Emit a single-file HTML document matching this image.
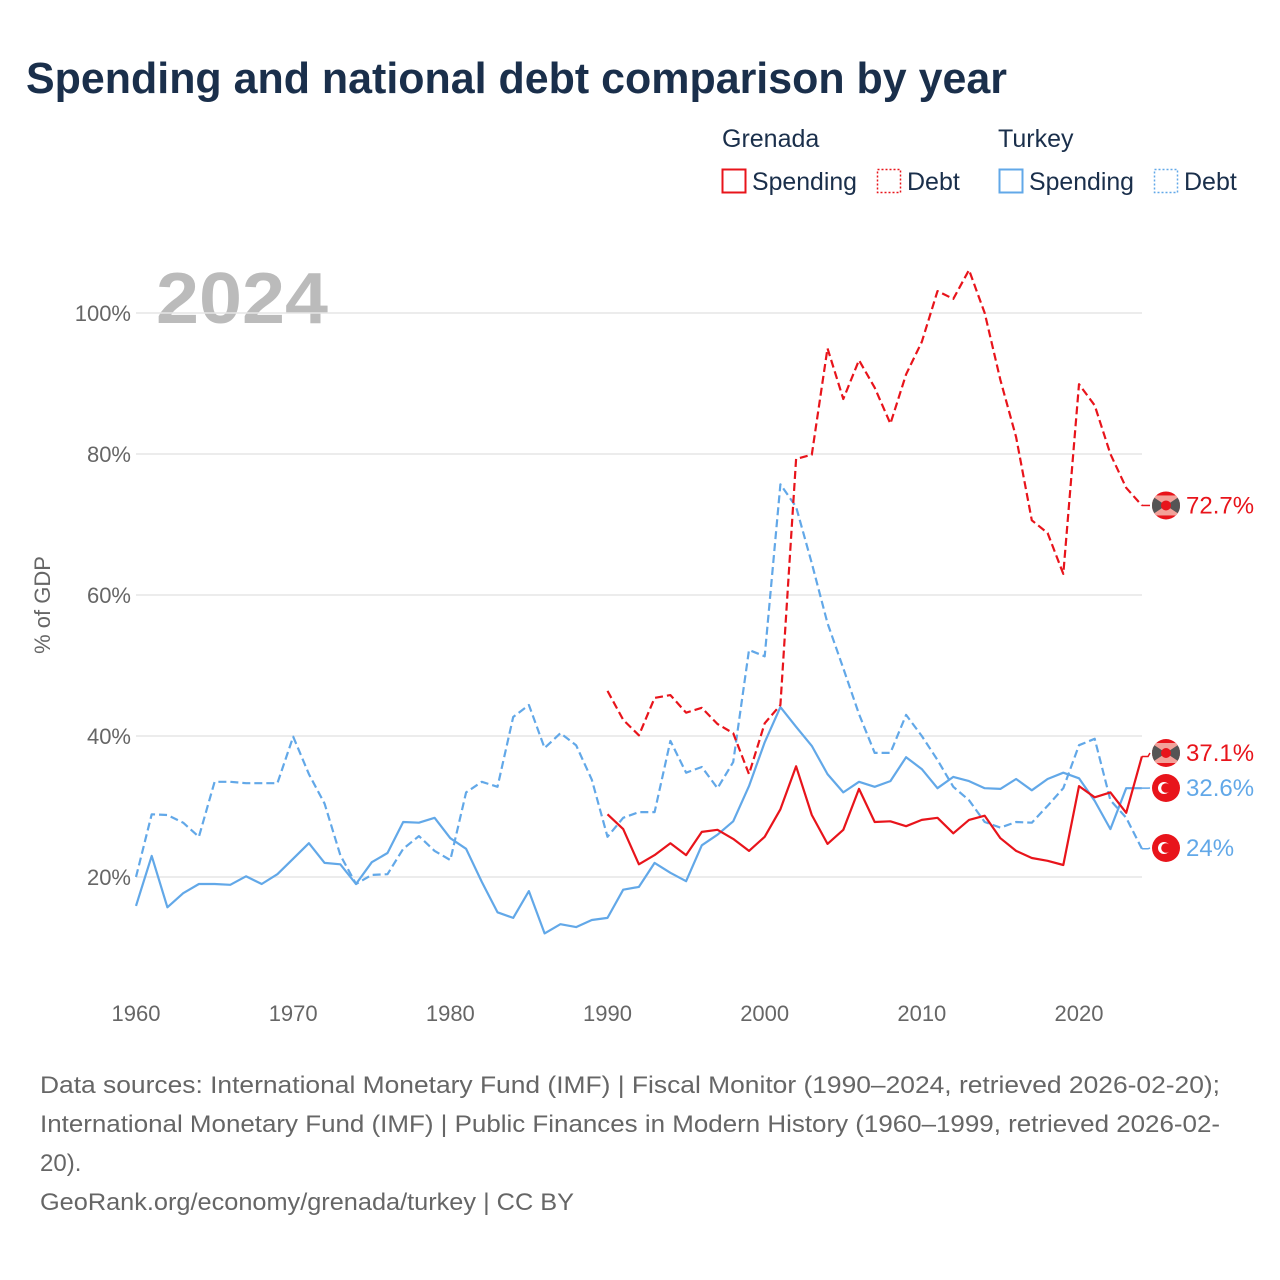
<!DOCTYPE html>
<html><head><meta charset="utf-8"><style>
html,body{margin:0;padding:0;background:#fff;width:1280px;height:1280px;overflow:hidden}
svg{display:block;font-family:"Liberation Sans",sans-serif}
</style></head><body>
<svg id="chart" width="1280" height="1280" viewBox="0 0 1280 1280">
<defs><clipPath id="flagclip"><circle cx="0" cy="0" r="14"/></clipPath></defs>
<text x="26" y="93" font-size="44" font-weight="bold" fill="#1a2f4b" textLength="981" lengthAdjust="spacingAndGlyphs">Spending and national debt comparison by year</text>
<g font-size="25" fill="#1a2f4b">
<text x="722" y="147">Grenada</text>
<text x="998" y="147">Turkey</text>
<g><rect x="722.5" y="169.5" width="23" height="23" fill="none" stroke="#e8141b" stroke-width="2"/><text x="752" y="190" textLength="105" lengthAdjust="spacingAndGlyphs">Spending</text></g>
<g><rect x="877.5" y="169.5" width="23" height="23" fill="none" stroke="#e8141b" stroke-width="1.5" stroke-dasharray="2,2"/><text x="907" y="190">Debt</text></g>
<g><rect x="999.5" y="169.5" width="23" height="23" fill="none" stroke="#62a8e8" stroke-width="2"/><text x="1029" y="190" textLength="105" lengthAdjust="spacingAndGlyphs">Spending</text></g>
<g><rect x="1154.5" y="169.5" width="23" height="23" fill="none" stroke="#62a8e8" stroke-width="1.5" stroke-dasharray="2,2"/><text x="1184" y="190">Debt</text></g>
</g>
<text x="156" y="323" font-size="72" font-weight="bold" fill="#bbbbbb" textLength="172" lengthAdjust="spacingAndGlyphs">2024</text>
<g id="grid"></g>
<g id="yticks" font-size="22" fill="#666" text-anchor="end"></g>
<g id="xticks" font-size="22" fill="#666" text-anchor="middle"></g>
<text transform="translate(50,605) rotate(-90)" font-size="22" fill="#666" text-anchor="middle">% of GDP</text>
<g id="series"></g>
<g id="labels"></g>
<g font-size="24" fill="#666">
<text x="40" y="1093" textLength="1180" lengthAdjust="spacingAndGlyphs">Data sources: International Monetary Fund (IMF) | Fiscal Monitor (1990–2024, retrieved 2026-02-20);</text>
<text x="40" y="1132" textLength="1180" lengthAdjust="spacingAndGlyphs">International Monetary Fund (IMF) | Public Finances in Modern History (1960–1999, retrieved 2026-02-</text>
<text x="40" y="1171">20).</text>
<text x="40" y="1210" textLength="534" lengthAdjust="spacingAndGlyphs">GeoRank.org/economy/grenada/turkey | CC BY</text>
</g>
</svg>
<script>
const yTicks=[20,40,60,80,100];
const xTicks=[1960,1970,1980,1990,2000,2010,2020];
const turkeyStart=1960;
const turkeySpending=[15.9,23,15.7,17.7,19,19,18.9,20.1,19,20.4,22.6,24.8,22,21.8,19,22.1,23.4,27.8,27.7,28.4,25.5,24,19.3,15,14.2,18,12,13.3,12.9,13.9,14.2,18.2,18.6,22,20.6,19.4,24.5,26,27.9,32.9,39.1,44.1,41.3,38.6,34.6,32,33.5,32.8,33.6,37,35.3,32.6,34.2,33.6,32.6,32.5,33.9,32.3,33.9,34.8,34,30.8,26.8,32.6,32.6];
const turkeyDebt=[20,28.9,28.8,27.7,25.7,33.5,33.5,33.3,33.3,33.3,39.9,34.6,30.4,23.1,19,20.3,20.4,24,25.8,23.7,22.4,32,33.5,32.8,42.7,44.4,38.3,40.4,38.7,33.8,25.7,28.4,29.2,29.2,39.3,34.8,35.6,32.6,36.3,52.2,51.3,75.7,72.5,64.5,56,49.6,43.1,37.6,37.6,43,40,36.6,32.8,30.9,27.8,27,27.8,27.7,30.1,32.6,38.7,39.6,30.9,28.4,24];
const grenadaStart=1990;
const grenadaSpending=[28.9,26.8,21.8,23.1,24.8,23.1,26.4,26.7,25.4,23.7,25.7,29.6,35.7,28.8,24.7,26.7,32.5,27.8,27.9,27.2,28.1,28.4,26.2,28.1,28.7,25.5,23.7,22.7,22.3,21.7,32.9,31.3,32,29.1,37.1];
const grenadaDebt=[46.4,42.3,40.1,45.4,45.8,43.3,44,41.7,40.4,34.6,41.8,44.4,79.3,79.9,95,87.8,93.3,89.4,84.3,91.3,95.9,103.1,102,106.1,100,90.5,82.4,70.6,68.8,63,89.9,86.9,80,75.2,72.7];

const NS="http://www.w3.org/2000/svg";
const X=yr=>136+(yr-1960)*(1079-136)/60;
const Y=v=>1018-v*7.05;
function mk(tag,attrs,parent){const e=document.createElementNS(NS,tag);for(const k in attrs)e.setAttribute(k,attrs[k]);parent.appendChild(e);return e;}
const grid=document.getElementById('grid'),yt=document.getElementById('yticks'),xt=document.getElementById('xticks');
yTicks.forEach(v=>{
  const l=mk('line',{x1:136,x2:1142,y1:Y(v),y2:Y(v),stroke:'#e6e6e6','stroke-width':1.5},grid);
  
  
  const t=mk('text',{x:131,y:Y(v)+8},yt);t.textContent=v+'%';
  
  
});
xTicks.forEach(yr=>{
  const t=mk('text',{x:X(yr),y:1021},xt);t.textContent=yr;
  
  
});
const ser=document.getElementById('series');
function line(vals,start,color,dash,name){
  const d=vals.map((v,i)=>(i?'L':'M')+X(start+i).toFixed(1)+' '+Y(v).toFixed(1)).join(' ');
  const p=mk('path',{d:d,fill:'none',stroke:color,'stroke-width':2.2,'stroke-linejoin':'round'},ser);
  if(dash)p.setAttribute('stroke-dasharray','8,4');
  
  
}
line(turkeyDebt,turkeyStart,'#62a8e8',true,'turkey-debt-line');
line(turkeySpending,turkeyStart,'#62a8e8',false,'turkey-spending-line');
line(grenadaDebt,grenadaStart,'#e8141b',true,'grenada-debt-line');
line(grenadaSpending,grenadaStart,'#e8141b',false,'grenada-spending-line');
const lab=document.getElementById('labels');
function endLabel(vals,start,color,text,flag,name,ly){
  const v=vals[vals.length-1],yy=ly!==undefined?ly:Y(v);
  const g=mk('g',{},lab);
  
  
  mk('path',{d:'M'+X(start+vals.length-1)+' '+Y(v)+' L1148 '+Y(v)+' L1150 '+yy,fill:'none',stroke:color,'stroke-width':1.5},g);
  if(flag==='gd'){
    const f=mk('g',{transform:'translate(1166,'+yy+')','clip-path':'url(#flagclip)'},g);
    mk('rect',{x:-15,y:-15,width:30,height:30,fill:'#e8141b'},f);
    mk('rect',{x:-15,y:-10,width:30,height:20,fill:'#f2a29a'},f);
    mk('path',{d:'M-15 -10 L15 10 L15 -10 L-15 10Z',fill:'#555'},f);
    mk('circle',{cx:0,cy:0,r:5,fill:'#e8141b'},f);
  }else{
    mk('circle',{cx:1166,cy:yy,r:14,fill:'#e8141b'},g);
    mk('circle',{cx:1164,cy:yy,r:6,fill:'#fff'},g);
    mk('circle',{cx:1166,cy:yy,r:4.8,fill:'#e8141b'},g);
  }
  const t=mk('text',{x:1186,y:yy+8,'font-size':24,fill:color},g);t.textContent=text;
}
endLabel(grenadaDebt,grenadaStart,'#e8141b','72.7%','gd','label-grenada-debt');
endLabel(grenadaSpending,grenadaStart,'#e8141b','37.1%','gd','label-grenada-spending',753);
endLabel(turkeySpending,turkeyStart,'#62a8e8','32.6%','tr','label-turkey-spending',788);
endLabel(turkeyDebt,turkeyStart,'#62a8e8','24%','tr','label-turkey-debt',848);
</script>
</body></html>
